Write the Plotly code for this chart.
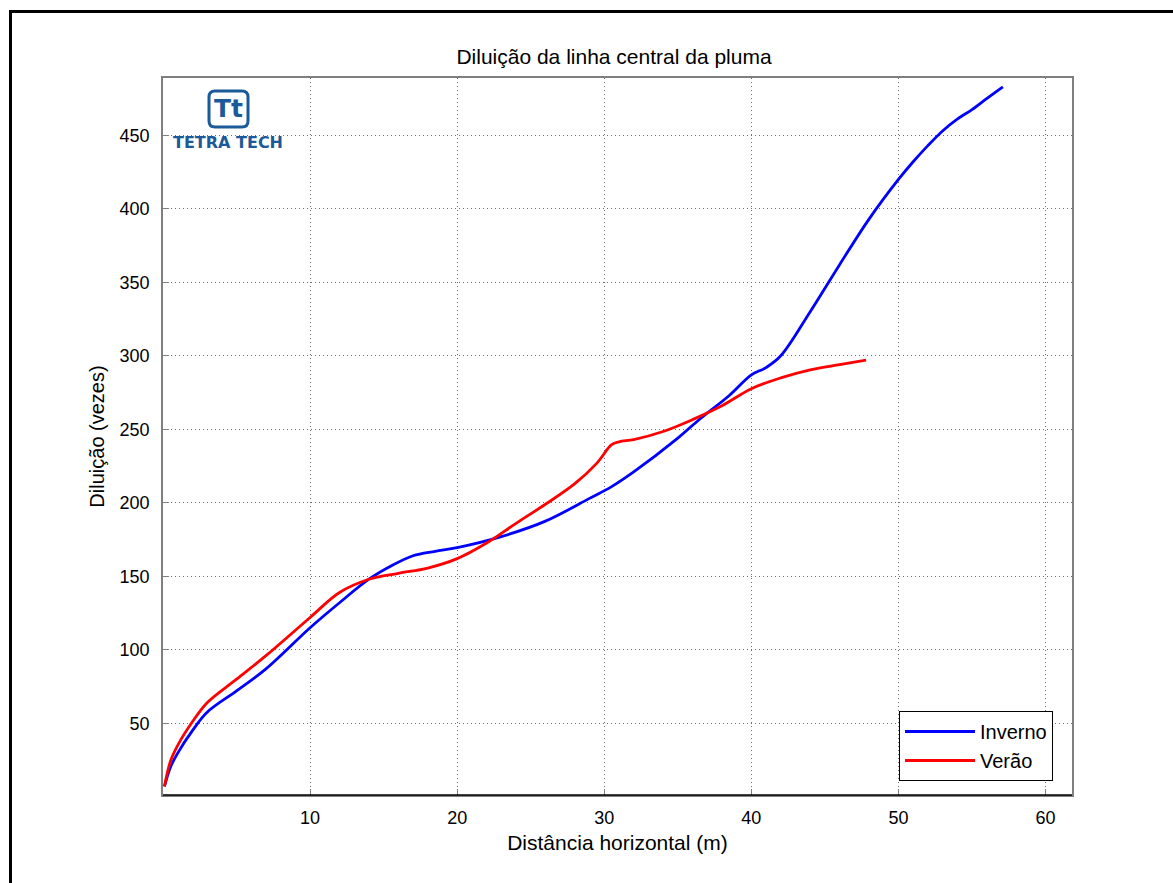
import plotly.graph_objects as go

# Inverno (blue)
inv_x = [0.1, 0.5, 1, 2, 3, 5, 7, 10, 12, 14, 15.5, 17, 18.5, 20, 23, 26, 29, 30.5, 32, 35, 36.5, 38.5, 40, 41, 42, 44, 46, 48, 50, 51, 52, 53, 54, 55, 56, 57.1]
inv_y = [7, 20, 29.7, 45, 57.5, 72, 87, 115, 132, 148, 157, 164, 167, 169.5, 177, 187.5, 203, 211, 221, 244, 257, 273, 287, 292, 300, 330, 362, 393, 420, 432, 443, 453, 461, 467.5, 475, 483]
# Verão (red)
ver_x = [0.1, 0.5, 1, 2, 3, 5, 7, 10, 12, 14, 16, 18, 20, 22, 24, 26, 28, 29.5, 30.5, 31, 32, 34, 36, 38, 40, 42, 44, 46, 47.8]
ver_y = [7, 24, 35, 51, 64, 80, 96, 122, 139, 148, 152, 155.6, 162, 172.6, 186, 199, 213, 227, 239.5, 241.5, 243, 248.5, 256.6, 266, 277.6, 285, 290.5, 294, 297]

x_ticks = [10, 20, 30, 40, 50, 60]
y_ticks = [50, 100, 150, 200, 250, 300, 350, 400, 450]

W, H = 1173, 883
L, R, T, B = 163, 1072, 78, 795
FONT = "Liberation Sans, Arial, Helvetica"

def px(x):
    return (x - L) / (R - L)

def py(y):
    return (B - y) / (B - T)

fig = go.Figure()
fig.add_trace(go.Scatter(x=inv_x, y=inv_y, mode="lines", name="Inverno",
                         line=dict(color="#0000ff", width=2.8, shape="spline", smoothing=1.0)))
fig.add_trace(go.Scatter(x=ver_x, y=ver_y, mode="lines", name="Verão",
                         line=dict(color="#ff0000", width=2.8, shape="spline", smoothing=1.0)))

axis_common = dict(showline=True, linecolor="#7f7f7f", linewidth=1.5, mirror=True,
                   ticks="inside", ticklen=6, tickcolor="#7f7f7f",
                   showgrid=True, gridcolor="#6a6a6a", griddash="1px,3px", gridwidth=1,
                   zeroline=False, tickfont=dict(family=FONT, size=18, color="black"))

fig.update_xaxes(range=[0, 61.8], tickvals=x_ticks, ticklabelstandoff=6,
                 title=dict(text="Distância horizontal (m)", font=dict(family=FONT, size=21, color="black"), standoff=8),
                 **axis_common)
fig.update_yaxes(range=[1.2, 489], tickvals=y_ticks, ticklabelstandoff=8,
                 title=dict(text="Diluição (vezes)", font=dict(family=FONT, size=20, color="black"), standoff=10),
                 **axis_common)

shapes = []
# outer figure border
shapes.append(dict(type="rect", xref="paper", yref="paper",
                   x0=px(10.5), x1=px(1190), y0=py(11.5), y1=py(900),
                   line=dict(color="black", width=3), fillcolor="rgba(0,0,0,0)"))
# bottom axis line darker
shapes.append(dict(type="line", xref="paper", yref="paper", x0=0, x1=1, y0=0, y1=0,
                   line=dict(color="black", width=1.5)))
# logo rounded box
x0, x1, y0, y1, r = 209, 248, 91, 127, 6
path = (f"M {px(x0+r)},{py(y0)} L {px(x1-r)},{py(y0)} Q {px(x1)},{py(y0)} {px(x1)},{py(y0+r)} "
        f"L {px(x1)},{py(y1-r)} Q {px(x1)},{py(y1)} {px(x1-r)},{py(y1)} "
        f"L {px(x0+r)},{py(y1)} Q {px(x0)},{py(y1)} {px(x0)},{py(y1-r)} "
        f"L {px(x0)},{py(y0+r)} Q {px(x0)},{py(y0)} {px(x0+r)},{py(y0)} Z")
shapes.append(dict(type="path", xref="paper", yref="paper", path=path,
                   line=dict(color="#1b5a98", width=3), fillcolor="white"))

annotations = [
    dict(text="Tt", xref="paper", yref="paper", x=px(228.5), y=py(109), xanchor="center", yanchor="middle",
         showarrow=False, font=dict(family="DejaVu Sans, Arial", size=25, color="#1b5a98", weight="bold")),
    dict(text="TETRA TECH", xref="paper", yref="paper", x=px(228), y=py(143), xanchor="center", yanchor="middle",
         showarrow=False, font=dict(family="DejaVu Sans, Arial", size=16, color="#1b5a98", weight="bold")),
]

fig.update_layout(
    width=W, height=H,
    margin=dict(l=L, r=W - R, t=T, b=H - B),
    paper_bgcolor="white", plot_bgcolor="white",
    title=dict(text="Diluição da linha central da pluma", xref="container", x=614 / W, xanchor="center",
               yref="container", y=1 - 57 / H, yanchor="middle",
               font=dict(family=FONT, size=21, color="black")),
    legend=dict(x=px(1053), y=py(781), xanchor="right", yanchor="bottom",
                bordercolor="black", borderwidth=1, bgcolor="white",
                font=dict(family=FONT, size=20, color="black"),
                itemwidth=70, tracegroupgap=0),
    shapes=shapes, annotations=annotations,
    showlegend=True,
)

fig.write_html("out.html")
